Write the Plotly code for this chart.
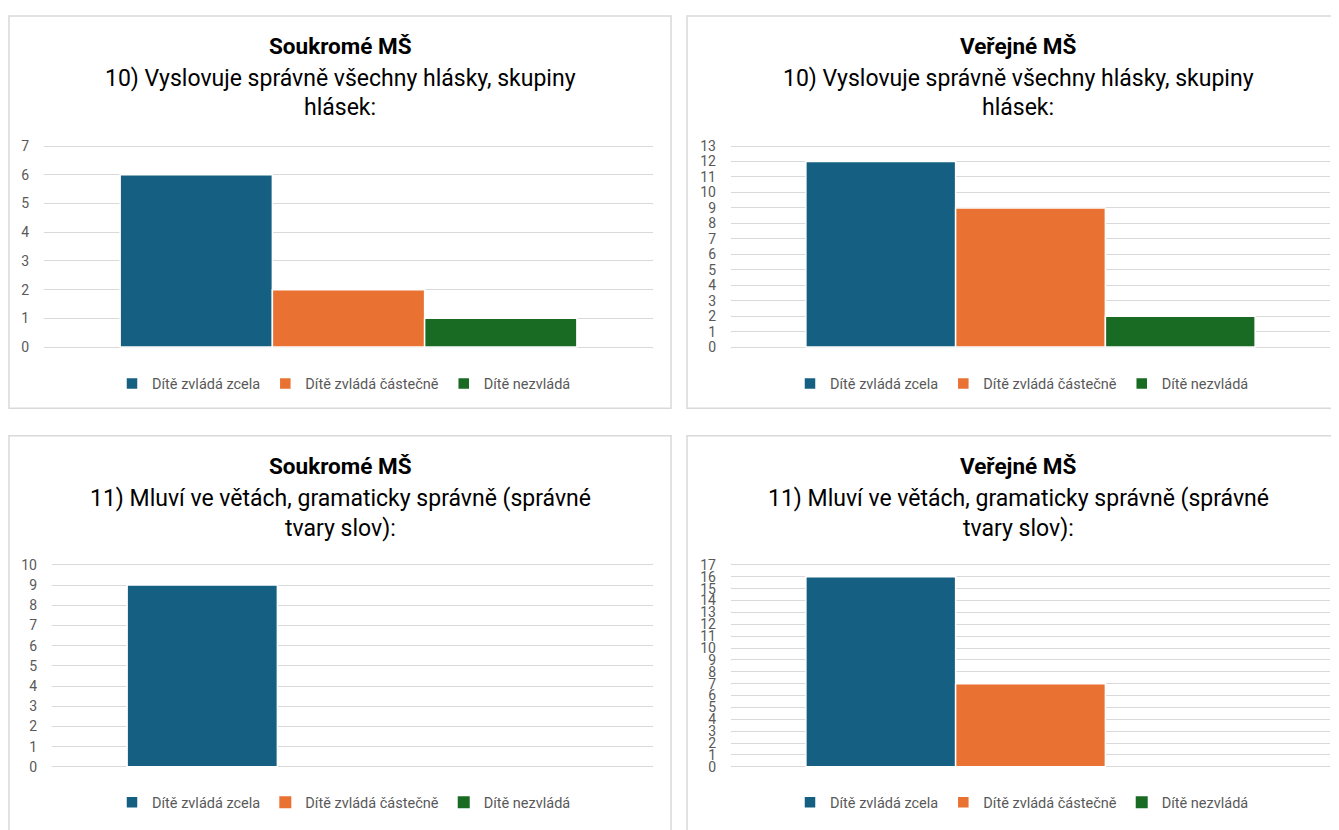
import plotly.graph_objects as go

W, H = 1339, 830
OFF = 8  # browser default body margin around the plot div

# ---------------- data ----------------
series_names = ["Dítě zvládá zcela", "Dítě zvládá částečně", "Dítě nezvládá"]
series_colors = ["#156082", "#E97132", "#196B24"]
category = [""]

panel_headers = ["Soukromé MŠ", "Veřejné MŠ", "Soukromé MŠ", "Veřejné MŠ"]
question_10 = ["10) Vyslovuje správně všechny hlásky, skupiny", "hlásek:"]
question_11 = ["11) Mluví ve větách, gramaticky správně (správné", "tvary slov):"]
panel_questions = [question_10, question_10, question_11, question_11]

soukrome_q10 = [6, 2, 1]
verejne_q10 = [12, 9, 2]
soukrome_q11 = [9, 0, 0]
verejne_q11 = [16, 7, 0]
panel_values = [soukrome_q10, verejne_q10, soukrome_q11, verejne_q11]
axis_max = [7, 13, 10, 17]

# ---------------- layout (page pixels) ----------------
panels = [
    dict(box=(9, 10, 671, 408), px=(44, 653), y0=346, ytop=142, cx=340, ty=40, sy=(73, 103), ly=383),
    dict(box=(687, 10, 1350, 408), px=(731, 1330), y0=346, ytop=142, cx=1018, ty=40, sy=(73, 103), ly=383),
    dict(box=(9, 436, 671, 845), px=(52, 653), y0=772, ytop=567, cx=340, ty=467, sy=(500, 530), ly=808),
    dict(box=(687, 436, 1350, 845), px=(731, 1330), y0=772, ytop=567, cx=1018, ty=467, sy=(500, 530), ly=808),
]

FONT = "Roboto"
FW, FH = W - OFF, H - OFF
fx = lambda p: (p - OFF) / FW
fy = lambda p: 1 - (p - OFF) / FH

fig = go.Figure()
layout = dict(
    width=FW, height=FH,
    margin=dict(l=0, r=0, t=0, b=0),
    paper_bgcolor="white", plot_bgcolor="white",
    barmode="group", bargap=0.25, bargroupgap=0.0,
    font=dict(family=FONT, color="#595959", size=14),
    shapes=[], annotations=[],
)

for i, (pan, vals, vmax) in enumerate(zip(panels, panel_values, axis_max)):
    n = "" if i == 0 else str(i + 1)
    leg = "legend" if i == 0 else f"legend{i+1}"
    for name, color, v in zip(series_names, series_colors, vals):
        fig.add_trace(go.Bar(
            x=category, y=[v], name=name,
            marker=dict(color=color, line=dict(color="white", width=[1.5 if v else 0])),
            xaxis="x" + n, yaxis="y" + n, legend=leg,
            hoverinfo="skip",
        ))
    ppu = (pan["y0"] - pan["ytop"]) / vmax
    pad = 2 / ppu
    layout["xaxis" + n] = dict(
        domain=[fx(pan["px"][0]), fx(pan["px"][1])],
        range=[-0.5, 0.5], showticklabels=False, showgrid=False,
        zeroline=False, showline=False, anchor="y" + n, fixedrange=True,
    )
    layout["yaxis" + n] = dict(
        domain=[fy(pan["y0"] + 2), fy(pan["ytop"] - 2)],
        range=[-pad, vmax + pad], tickmode="linear", tick0=0, dtick=1,
        showgrid=True, gridcolor="#D9D9D9", gridwidth=1,
        zeroline=False, showline=False, ticks="",
        ticklabelstandoff=14, tickfont=dict(size=14, color="#595959"),
        anchor="x" + n, fixedrange=True,
    )
    layout[leg] = dict(
        x=fx(pan["cx"] + 4), y=fy(pan["ly"]), xanchor="center", yanchor="middle",
        orientation="h", font=dict(size=14.5, color="#595959", family=FONT),
        bgcolor="rgba(0,0,0,0)", itemclick=False, itemdoubleclick=False,
    )
    x0, y0b, x1, y1b = pan["box"]
    layout["shapes"].append(dict(
        type="rect", xref="paper", yref="paper",
        x0=fx(x0), x1=fx(x1), y0=fy(y1b), y1=fy(y0b),
        line=dict(color="#D9D9D9", width=1.5), fillcolor="rgba(0,0,0,0)", layer="below",
    ))
    layout["annotations"].append(dict(
        text="<b>" + panel_headers[i] + "</b>", xref="paper", yref="paper",
        x=fx(pan["cx"]), y=fy(pan["ty"]), xanchor="center", yanchor="middle",
        showarrow=False, font=dict(size=22.5, color="#000000", family=FONT),
    ))
    for line, yy in zip(panel_questions[i], pan["sy"]):
        layout["annotations"].append(dict(
            text=line, xref="paper", yref="paper",
            x=fx(pan["cx"]), y=fy(yy), xanchor="center", yanchor="middle",
            showarrow=False, font=dict(size=23, color="#000000", family=FONT),
        ))

fig.update_layout(**layout)
fig.write_html("out.html")
